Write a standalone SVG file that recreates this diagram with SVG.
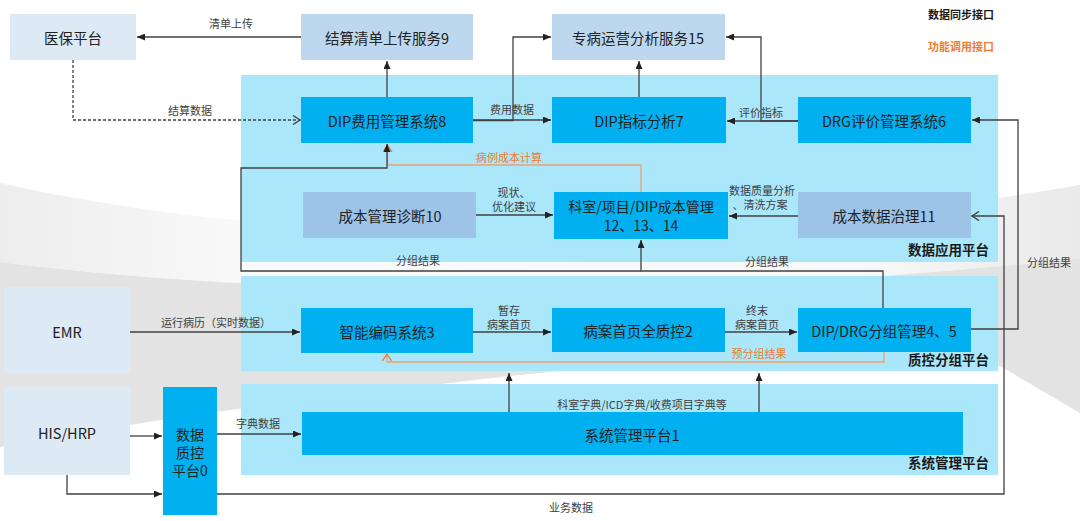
<svg xmlns="http://www.w3.org/2000/svg" width="1080" height="521" viewBox="0 0 1080 521">
<defs>
<style>
text{font-family:"Noto Sans CJK SC","Noto Sans",sans-serif;}
.nt{font-size:14.5px;fill:#222;text-anchor:middle;dominant-baseline:central;}
.nt2{font-size:14px;fill:#222;text-anchor:middle;dominant-baseline:central;}
.el{font-size:11px;fill:#404040;text-anchor:middle;dominant-baseline:central;}
.ol{font-size:11px;fill:#ed7d31;text-anchor:middle;dominant-baseline:central;}
.pl{font-size:13.5px;font-weight:bold;fill:#1a1a1a;text-anchor:end;dominant-baseline:central;}
.panel{fill:#abe7fb;}
.main{fill:#00b0f0;}
.cost{fill:#9dc3e6;}
.svc{fill:#bdd7ee;}
.ext{fill:#dde9f5;}
.c{fill:none;stroke:#404040;stroke-width:1.3;}
.o{fill:none;stroke:#f0a070;stroke-width:1.3;}
.d{stroke-dasharray:3 2;}
</style>
<marker id="af" markerUnits="userSpaceOnUse" viewBox="0 0 8 7" refX="8" refY="3.5" markerWidth="8" markerHeight="7" orient="auto"><path d="M0,0 L8,3.5 L0,7 z" fill="#222"/></marker>
<marker id="ao" markerUnits="userSpaceOnUse" viewBox="0 0 9 10" refX="8" refY="5" markerWidth="9" markerHeight="10" orient="auto"><path d="M1,0.5 L8,5 L1,9.5" fill="none" stroke="#404040" stroke-width="1.3"/></marker>
<marker id="aoo" markerUnits="userSpaceOnUse" viewBox="0 0 9 10" refX="8" refY="5" markerWidth="9" markerHeight="10" orient="auto"><path d="M1,0.5 L8,5 L1,9.5" fill="none" stroke="#ed7d31" stroke-width="1.3"/></marker>
<linearGradient id="lg" x1="0" y1="0" x2="1" y2="0"><stop offset="0" stop-color="#ededed"/><stop offset="0.25" stop-color="#fafafa"/><stop offset="0.8" stop-color="#f8f8f8"/><stop offset="1" stop-color="#eaeaea"/></linearGradient>
</defs>
<rect width="1080" height="521" fill="#ffffff"/>
<g id="background">
<path d="M0,183 C300,250 700,250 1080,185 L1080,258 C700,300 300,300 0,262 Z" fill="url(#lg)"/>
<path d="M0,262 C300,300 700,300 1080,258 L1080,413 L1000,366 C850,340 600,365 450,383 Q200,410 0,447 Z" fill="#e3e3e3"/>
</g>
<g id="panels">
<rect class="panel" x="241" y="75" width="757" height="187"/>
<rect class="panel" x="241" y="276" width="757" height="95"/>
<rect class="panel" x="241" y="384" width="757" height="91"/>
<text class="pl" x="989" y="249">数据应用平台</text>
<text class="pl" x="989" y="359">质控分组平台</text>
<text class="pl" x="989" y="462">系统管理平台</text>
</g>
<g id="legend">
<text x="928" y="14" style="font-size:11px;font-weight:bold;fill:#1a1a1a;dominant-baseline:central">数据同步接口</text>
<text x="928" y="46" style="font-size:11px;font-weight:bold;fill:#ed7d31;dominant-baseline:central">功能调用接口</text>
</g>
<g id="n-yibao"><rect class="ext" x="10" y="14" width="126" height="46"/><text class="nt" x="73" y="37">医保平台</text></g>
<g id="n9"><rect class="svc" x="301" y="14" width="172" height="46"/><text class="nt" x="387" y="37">结算清单上传服务9</text></g>
<g id="n15"><rect class="svc" x="552" y="14" width="173" height="46"/><text class="nt" x="638" y="37">专病运营分析服务15</text></g>
<g id="n8"><rect class="main" x="301" y="97" width="172" height="46"/><text class="nt" x="387" y="120">DIP费用管理系统8</text></g>
<g id="n7"><rect class="main" x="552" y="97" width="174" height="46"/><text class="nt" x="639" y="120">DIP指标分析7</text></g>
<g id="n6"><rect class="main" x="798" y="97" width="173" height="46"/><text class="nt" x="884" y="120">DRG评价管理系统6</text></g>
<g id="n10"><rect class="cost" x="303" y="192" width="173" height="46"/><text class="nt" x="390" y="215">成本管理诊断10</text></g>
<g id="n12"><rect class="main" x="554" y="192" width="174" height="47"/><text class="nt2" x="641" y="206">科室/项目/DIP成本管理</text><text class="nt2" x="641" y="225">12、13、14</text></g>
<g id="n11"><rect class="cost" x="798" y="192" width="173" height="46"/><text class="nt" x="884" y="215">成本数据治理11</text></g>
<g id="n3"><rect class="main" x="301" y="308" width="172" height="45"/><text class="nt" x="387" y="331">智能编码系统3</text></g>
<g id="n2"><rect class="main" x="552" y="308" width="173" height="44"/><text class="nt" x="638" y="330">病案首页全质控2</text></g>
<g id="n45"><rect class="main" x="798" y="308" width="173" height="44"/><text class="nt" x="884" y="330">DIP/DRG分组管理4、5</text></g>
<g id="n1"><rect class="main" x="302" y="412" width="661" height="43"/><text class="nt" x="632" y="434">系统管理平台1</text></g>
<g id="n-emr"><rect class="ext" x="4" y="287" width="126" height="86"/><text class="nt" x="67" y="331">EMR</text></g>
<g id="n-his"><rect class="ext" x="4" y="387" width="126" height="88"/><text class="nt" x="67" y="432">HIS/HRP</text></g>
<g id="n0"><rect class="main" x="163" y="387" width="54" height="128"/><text class="nt2" x="190" y="434">数据</text><text class="nt2" x="190" y="452">质控</text><text class="nt2" x="190" y="470">平台0</text></g>
<g id="connectors">
<path class="c" d="M301,37 L137,37" marker-end="url(#af)"/>
<path class="c d" d="M73,60 L73,120 L300,120" marker-end="url(#ao)"/>
<path class="c" d="M387,97 L387,61" marker-end="url(#af)"/>
<path class="c" d="M473,120 L551,120" marker-end="url(#af)"/>
<path class="c" d="M473,120.5 L513,120.5 L513,37 L551,37" marker-end="url(#af)"/>
<path class="c" d="M639,97 L639,61" marker-end="url(#af)"/>
<path class="c" d="M798,121 L727,121" marker-end="url(#af)"/>
<path class="c" d="M798,121 L761,121 L761,37 L726,37" marker-end="url(#af)"/>
<path class="c" d="M971,329 L1018,329 L1018,120 L972,120" marker-end="url(#af)"/>
<path class="o" d="M641,192 L641,165 L387.5,165 L387.5,145" marker-end="url(#aoo)"/>
<path class="c" d="M883,308 L883,271 L241,271 L241,168 L387,168 L387,144" marker-end="url(#af)"/>
<path class="c" d="M641,271 L641,240" marker-end="url(#af)"/>
<path class="c" d="M476,215 L553,215" marker-end="url(#af)"/>
<path class="c" d="M798,216 L729,216" marker-end="url(#af)"/>
<path class="c" d="M217,494 L1004,494 L1004,216 L972,216" marker-end="url(#ao)"/>
<path class="c" d="M130,332 L300,332" marker-end="url(#af)"/>
<path class="c" d="M473,332 L551,332" marker-end="url(#af)"/>
<path class="c" d="M725,332 L797,332" marker-end="url(#af)"/>
<path class="o" d="M884,352 L884,362 L387,362 L387,354" marker-end="url(#aoo)"/>
<path class="c" d="M509,412 L509,373" marker-end="url(#af)"/>
<path class="c" d="M759,412 L759,373" marker-end="url(#af)"/>
<path class="c" d="M130,436 L162,436" marker-end="url(#af)"/>
<path class="c" d="M67,475 L67,494 L162,494" marker-end="url(#af)"/>
<path class="c" d="M217,434 L301,434" marker-end="url(#af)"/>
</g>
<g id="labels">
<text class="el" x="231" y="23">清单上传</text>
<text class="el" x="190" y="110">结算数据</text>
<text class="el" x="512" y="109">费用数据</text>
<text class="el" x="761" y="112">评价指标</text>
<text class="el" x="1049" y="262">分组结果</text>
<text class="ol" x="509" y="157">病例成本计算</text>
<text class="el" x="514" y="192">现状、</text>
<text class="el" x="514" y="206">优化建议</text>
<text class="el" x="762" y="190">数据质量分析</text>
<text class="el" x="760" y="204">、清洗方案</text>
<text class="el" x="418" y="260">分组结果</text>
<text class="el" x="767" y="261">分组结果</text>
<text class="el" x="216" y="322">运行病历（实时数据）</text>
<text class="el" x="509" y="310">暂存</text>
<text class="el" x="509" y="324">病案首页</text>
<text class="el" x="757" y="310">终末</text>
<text class="el" x="757" y="324">病案首页</text>
<text class="ol" x="759" y="353">预分组结果</text>
<text class="el" x="642" y="404">科室字典/ICD字典/收费项目字典等</text>
<text class="el" x="258" y="423">字典数据</text>
<text class="el" x="571" y="507">业务数据</text>
</g>
</svg>
